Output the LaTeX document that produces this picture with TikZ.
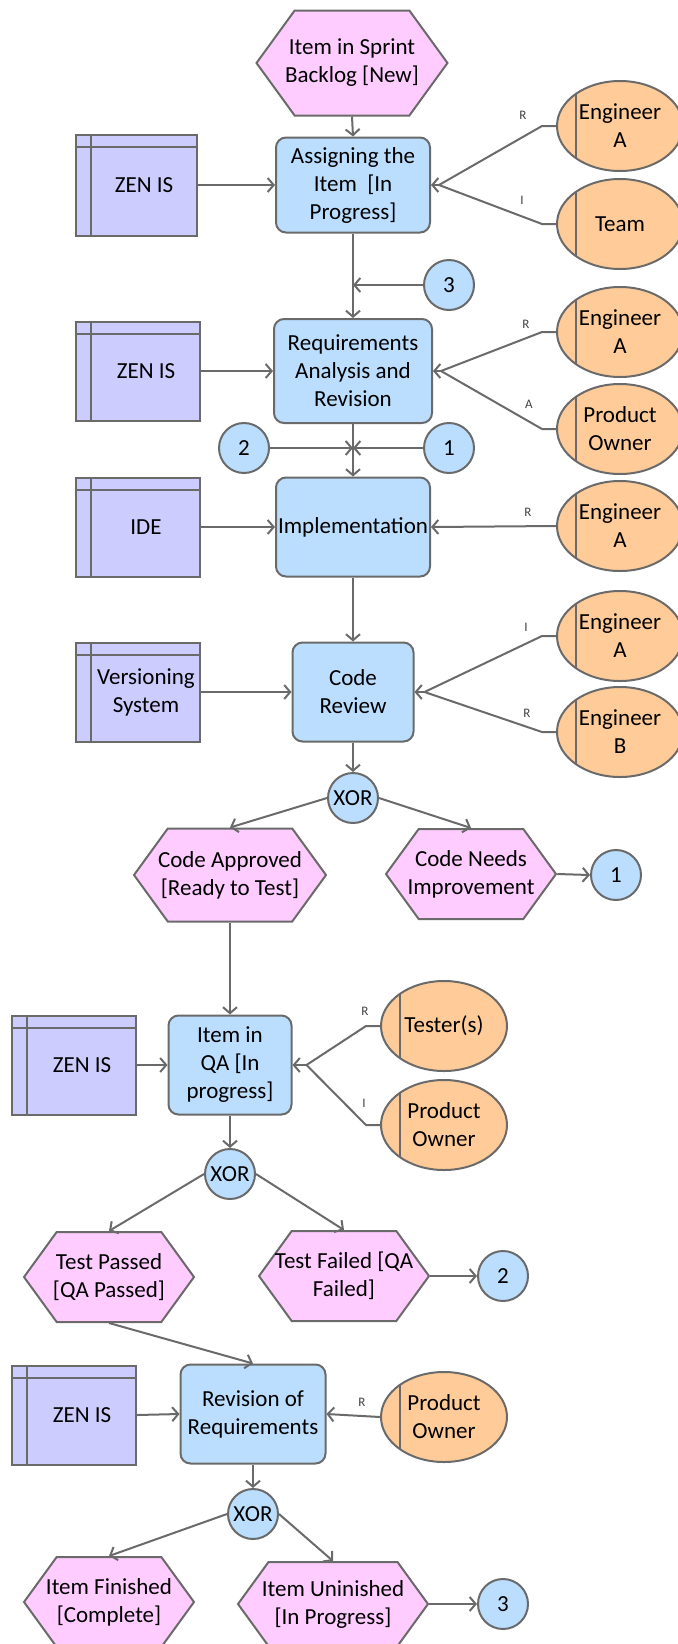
\documentclass[tikz,border=0pt]{standalone}
\usepackage{fontspec}
\setmainfont{Carlito}
\usetikzlibrary{shapes.geometric,shapes.symbols,arrows.meta}

\definecolor{evtpink}{HTML}{FFCCFF}
\definecolor{funcblue}{HTML}{BBDEFF}
\definecolor{syslilac}{HTML}{CCCCFF}
\definecolor{roleorange}{HTML}{FFCC99}
\definecolor{edgegray}{HTML}{6A6A6A}

\tikzset{
  flow/.style={draw=edgegray, line width=1pt, -{Straight Barb[length=3pt,width=7pt]}},
  link/.style={draw=edgegray, line width=1pt},
  func/.style={draw=edgegray, fill=funcblue, line width=1pt, rounded corners=5pt,
    align=center, inner sep=0pt, minimum width=77pt, minimum height=49.5pt},
  evt/.style={signal, signal to=west and east, signal pointer angle=108,
    draw=edgegray, fill=evtpink, line width=1pt, align=center,
    inner xsep=-12pt, inner ysep=0pt, minimum width=85pt, minimum height=45pt},
  sys/.style={draw=edgegray, fill=syslilac, line width=1pt, inner sep=0pt,
    minimum width=62pt, minimum height=49.5pt,
    path picture={
      \draw[edgegray, line width=1pt] ([xshift=7.5pt]path picture bounding box.north west)
        -- ([xshift=7.5pt]path picture bounding box.south west);
      \draw[edgegray, line width=1pt] ([yshift=-6pt]path picture bounding box.north west)
        -- ([yshift=-6pt]path picture bounding box.north east);
    }},
  systxt/.style={align=center, xshift=4pt},
  role/.style={ellipse, draw=edgegray, fill=roleorange, line width=1pt, align=center,
    inner sep=0pt, minimum width=63pt, minimum height=45pt,
    path picture={
      \draw[edgegray, line width=1pt] ([xshift=9.5pt]path picture bounding box.north west)
        -- ([xshift=9.5pt]path picture bounding box.south west);
    }},
  conn/.style={circle, draw=edgegray, fill=funcblue, line width=1pt, inner sep=0pt,
    minimum size=25pt},
  raci/.style={font=\fontsize{6.5}{7}\selectfont, text=black!75}
}

\begin{document}
\begin{tikzpicture}[x=0.5pt, y=-0.5pt, every node/.style={font=\fontsize{11.5}{14}\selectfont}]
    \useasboundingbox (0,0) rectangle (677,1644);

    % --- assigning ---
    \node[evt, minimum width=95.5pt, minimum height=52.5pt] (ev1) at (352,63) {Item in Sprint\\Backlog [New]};
    \node[func, minimum height=47.5pt] (p1) at (353,185) {Assigning the\\Item\ \ [In\\Progress]};
    \node[sys, minimum width=60.5pt, minimum height=50.5pt, label={[systxt]center:ZEN IS}] (s1) at (136,185) {};
    \node[role] (r1) at (620,126) {Engineer\\A};
    \node[role] (r2) at (620,224) {Team};
    \node[conn] (c3a) at (449,285) {3};

    \draw[flow] (ev1.south) -- (p1.north);
    \draw[flow] (s1.east) -- (p1.west);
    \coordinate (j1) at ([xshift=4pt]p1.east);
    \draw[link] (r1.west) -- ++(-7pt,0) -- (j1);
    \draw[link] (r2.west) -- ++(-7pt,0) -- (j1);
    \draw[flow] (j1) -- (p1.east);
    \node[raci] (l1) at (523,115) {R};
    \node[raci] (l2) at (522,200) {I};

    % --- requirements ---
    \node[func, minimum width=79pt, minimum height=52pt] (p2) at (353,371) {Requirements\\Analysis and\\Revision};
    \node[sys, label={[systxt]center:ZEN IS}] (s2) at (138,371) {};
    \node[role] (r3) at (620,332) {Engineer\\A};
    \node[role] (r4) at (620,429) {Product\\Owner};

    \draw[flow] (p1.south) -- (p2.north);
    \draw[flow] (c3a.west) -- (c3a.west -| p1.south);
    \draw[flow] (s2.east) -- (p2.west);
    \coordinate (j2) at ([xshift=4pt]p2.east);
    \draw[link] (r3.west) -- ++(-7pt,0) -- (j2);
    \draw[link] (r4.west) -- ++(-7pt,0) -- (j2);
    \draw[flow] (j2) -- (p2.east);
    \node[raci] (l3) at (526,324) {R};
    \node[raci] (l4) at (529,404) {A};

    % --- implementation ---
    \node[conn] (c2a) at (244,448) {2};
    \node[conn] (c1a) at (449,448) {1};
    \node[func] (p3) at (353,527) {Implementation};
    \node[sys, label={[systxt]center:IDE}] (s3) at (138,527) {};
    \node[role] (r5) at (620,526) {Engineer\\A};

    \coordinate (m2) at (c2a.east -| p2.south);
    \draw[flow] (p2.south) -- (p3.north);
    \draw[flow] (c2a.east) -- (m2);
    \draw[flow] (c1a.west) -- (m2);
    \draw[flow] (s3.east) -- (p3.west);
    \draw[flow] (r5.west) -- (p3.east);
    \node[raci] (l5) at (528,512) {R};

    % --- code review ---
    \node[func, minimum width=60.5pt] (p4) at (353,692) {Code\\Review};
    \node[sys, label={[systxt]center:Versioning\\System}] (s4) at (138,692) {};
    \node[role] (r6) at (620,636) {Engineer\\A};
    \node[role] (r7) at (620,732) {Engineer\\B};
    \node[conn] (x1) at (353,798) {XOR};

    \draw[flow] (p3.south) -- (p4.north);
    \draw[flow] (s4.east) -- (p4.west);
    \coordinate (j4) at ([xshift=5pt]p4.east);
    \draw[link] (r6.west) -- ++(-7pt,0) -- (j4);
    \draw[link] (r7.west) -- ++(-7pt,0) -- (j4);
    \draw[flow] (j4) -- (p4.east);
    \node[raci] (l6) at (526,627) {I};
    \node[raci] (l7) at (527,713) {R};
    \draw[flow] (p4.south) -- (x1.north);

    \node[evt, minimum width=96pt, minimum height=46.5pt] (ev2) at (230,875) {Code Approved\\{[Ready to Test]}};
    \node[evt] (ev3) at (471,874) {Code Needs\\Improvement};
    \node[conn] (c1b) at (616,875) {1};

    \draw[flow] (x1.west) -- (ev2.north);
    \draw[flow] (x1.east) -- (ev3.north);
    \draw[flow] (ev3.east) -- (c1b.west);

    % --- qa ---
    \node[func, minimum width=61.5pt] (p5) at (230,1065) {Item in\\QA [In\\progress]};
    \node[sys, label={[systxt]center:ZEN IS}] (s5) at (74,1065) {};
    \node[role] (r8) at (444,1026) {Tester(s)};
    \node[role] (r9) at (444,1125) {Product\\Owner};
    \node[conn] (x2) at (230,1174) {XOR};

    \draw[flow] (ev2.south) -- (p5.north);
    \draw[flow] (s5.east) -- (p5.west);
    \coordinate (j5) at ([xshift=7pt]p5.east);
    \draw[link] (r8.west) -- ++(-7pt,0) -- (j5);
    \draw[link] (r9.west) -- ++(-7pt,0) -- (j5);
    \draw[flow] (j5) -- (p5.east);
    \node[raci] (l8) at (365,1011) {R};
    \node[raci] (l9) at (364,1103) {I};
    \draw[flow] (p5.south) -- (x2.north);

    \node[evt] (ev4) at (109,1277) {Test Passed\\{[QA Passed]}};
    \node[evt] (ev5) at (344,1276) {Test Failed [QA\\Failed]};
    \node[conn] (c2b) at (503,1276) {2};

    \draw[flow] (x2.west) -- (ev4.north);
    \draw[flow] (x2.east) -- (ev5.north);
    \draw[flow] (ev5.east) -- (c2b.west);

    % --- revision ---
    \node[func, minimum width=72.5pt] (p6) at (253,1414) {Revision of\\Requirements};
    \node[sys, label={[systxt]center:ZEN IS}] (s6) at (74,1415) {};
    \node[role] (r10) at (444,1417) {Product\\Owner};
    \node[conn] (x3) at (253,1514) {XOR};

    \draw[flow] (ev4.south) -- (p6.north);
    \draw[flow] (s6.east) -- (p6.west);
    \draw[flow] (r10.west) -- (p6.east);
    \node[raci] (l10) at (362,1402) {R};
    \draw[flow] (p6.south) -- (x3.north);

    \node[evt] (ev6) at (109,1602) {Item Finished\\{[Complete]}};
    \node[evt, minimum width=95pt, minimum height=42pt] (ev7) at (333,1604) {Item Uninished\\{[In Progress]}};
    \node[conn] (c3b) at (503,1604) {3};

    \draw[flow] (x3.west) -- (ev6.north);
    \draw[flow] (x3.east) -- (ev7.north);
    \draw[flow] (ev7.east) -- (c3b.west);
\end{tikzpicture}
\end{document}
